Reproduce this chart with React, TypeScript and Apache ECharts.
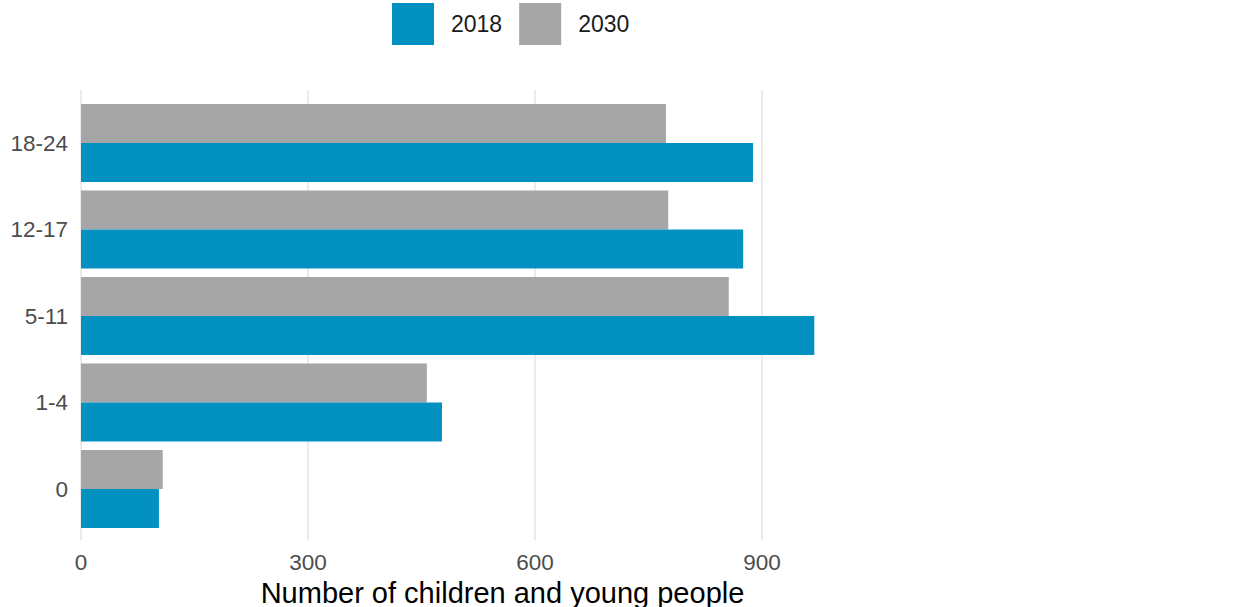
import React, { useEffect, useRef } from "react";
import * as echarts from "echarts";

const categories = ["0", "1-4", "5-11", "12-17", "18-24"];
const values2018 = [103, 477, 969, 875, 888];
const values2030 = [108, 457, 856, 776, 773];
const seriesNames = ["2018", "2030"];
const xTicks = [0, 300, 600, 900];

const BLUE = "#0391c2";
const GRAY = "#a6a6a6";
const FONT = "Liberation Sans, Arial, sans-serif";

export default function App() {
  const ref = useRef<HTMLDivElement>(null);
  useEffect(() => {
    if (!ref.current) return;
    const chart = echarts.init(ref.current, null, { renderer: "svg" });
    const left = 81;
    const width = 843;
    const xMax = 1114;
    chart.setOption({
      animation: false,
      textStyle: { fontFamily: FONT },
      legend: {
        data: seriesNames,
        left: 387,
        top: -2,
        itemWidth: 42,
        itemHeight: 42,
        itemGap: 17,
        icon: "rect",
        textStyle: { fontSize: 23, color: "#1a1a1a", fontFamily: FONT, padding: [0, 0, 0, 12] },
      },
      grid: [
        { left, width, top: 99.75, height: 432.5, outerBoundsMode: "none", containLabel: false },
        { left, width, top: 90, height: 450, outerBoundsMode: "none", containLabel: false },
      ],
      xAxis: [
        {
          type: "value",
          gridIndex: 0,
          min: 0,
          max: xMax,
          interval: 300,
          show: false,
        },
        {
          type: "value",
          gridIndex: 1,
          min: 0,
          max: xMax,
          interval: 300,
          axisLine: { show: false },
          axisTick: { show: false },
          splitLine: {
            show: true,
            lineStyle: {
              color: ["#ebebeb", "#ebebeb", "#ebebeb", "#ebebeb", "rgba(0,0,0,0)"],
              width: 2,
            },
          },
          axisLabel: {
            showMaxLabel: false,
            margin: 11,
            fontSize: 22.5,
            color: "#4d4d4d",
            fontFamily: FONT,
            formatter: (v: number) => (xTicks.includes(v) ? String(v) : ""),
          },
          name: "Number of children and young people",
          nameLocation: "middle",
          nameGap: 34,
          nameTextStyle: { fontSize: 29, color: "#000000", fontFamily: FONT },
        },
      ],
      yAxis: [
        {
          type: "category",
          gridIndex: 0,
          data: categories,
          axisLine: { show: false },
          axisTick: { show: false },
          splitLine: { show: false },
          axisLabel: { margin: 13, fontSize: 22.5, color: "#4d4d4d", fontFamily: FONT },
        },
        {
          type: "value",
          gridIndex: 1,
          show: false,
        },
      ],
      series: [
        {
          name: seriesNames[1],
          type: "bar",
          xAxisIndex: 0,
          yAxisIndex: 0,
          data: values2030,
          barGap: "0%",
          barCategoryGap: "10%",
          itemStyle: { color: GRAY },
        },
        {
          name: seriesNames[0],
          type: "bar",
          xAxisIndex: 0,
          yAxisIndex: 0,
          data: values2018,
          barGap: "0%",
          barCategoryGap: "10%",
          itemStyle: { color: BLUE },
        },
      ],
    });
    return () => chart.dispose();
  }, []);
  return <div ref={ref} style={{ width: 1240, height: 607, position: "absolute", left: 0, top: 0 }} />;
}
